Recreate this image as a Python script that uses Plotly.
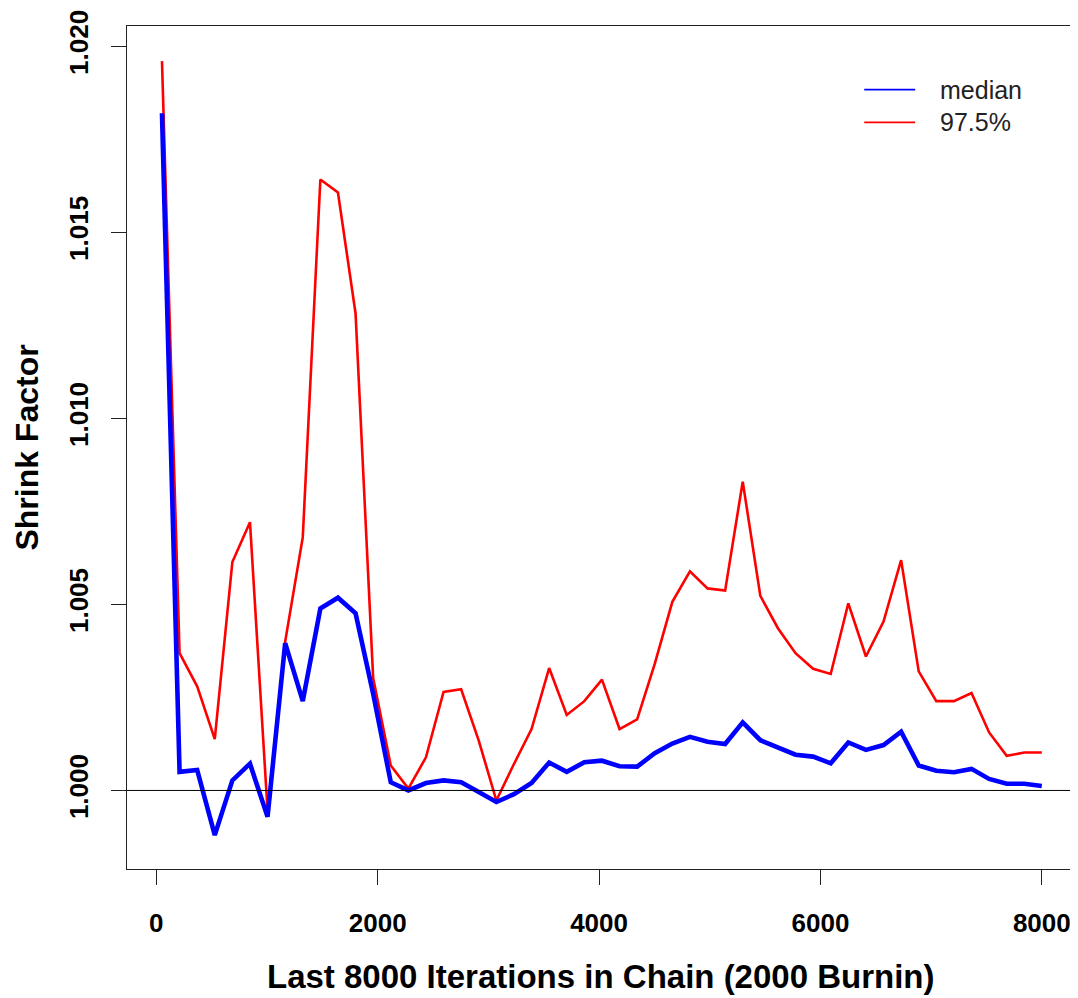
import plotly.graph_objects as go

# ---- data ----
iterations = [51, 210, 369, 528, 687, 846, 1005, 1164, 1323, 1482, 1641, 1800, 1959,
              2118, 2277, 2436, 2595, 2754, 2913, 3072, 3231, 3390, 3549, 3708, 3867,
              4026, 4185, 4344, 4503, 4662, 4821, 4980, 5139, 5298, 5457, 5616, 5775,
              5934, 6093, 6252, 6411, 6570, 6729, 6888, 7047, 7206, 7365, 7524, 7683,
              7842, 8000]

median = [1.0182, 1.0005, 1.00055, 0.9988, 1.00027, 1.00072, 0.99929, 1.00396, 1.0024,
          1.00489, 1.00518, 1.00476, 1.0026, 1.00022, 1.0000, 1.0002, 1.00027, 1.00022,
          0.99996, 0.99969, 0.9999, 1.0002, 1.00075, 1.0005, 1.00076, 1.0008, 1.00065,
          1.00064, 1.001, 1.00126, 1.00144, 1.00131, 1.00125, 1.00183, 1.00135, 1.00116,
          1.00096, 1.00091, 1.00073, 1.00129, 1.00109, 1.00122, 1.00158, 1.00067, 1.00053,
          1.00049, 1.00058, 1.00031, 1.00018, 1.00018, 1.00012]

upper975 = [1.0196, 1.00369, 1.0028, 1.00138, 1.00614, 1.00721, 0.99945, 1.004, 1.0068,
            1.01642, 1.01607, 1.01282, 1.00302, 1.00067, 1.00005, 1.00089, 1.00265, 1.00272,
            1.00134, 0.99973, 1.00071, 1.00165, 1.00329, 1.00203, 1.0024, 1.00298, 1.00165,
            1.00191, 1.0034, 1.00507, 1.00589, 1.00543, 1.00537, 1.0083, 1.00523, 1.00436,
            1.00369, 1.00327, 1.00313, 1.00503, 1.0036, 1.00454, 1.00619, 1.0032, 1.0024,
            1.0024, 1.00262, 1.00156, 1.00093, 1.00102, 1.00102]

series_names = ["median", "97.5%"]
x_ticks = [0, 2000, 4000, 6000, 8000]
y_ticks = [1.000, 1.005, 1.010, 1.015, 1.020]
x_title = "Last 8000 Iterations in Chain (2000 Burnin)"
y_title = "Shrink Factor"
reference_level = 1.0

# ---- layout geometry (page has an 8px body margin) ----
OFF = 8
W, H = 1078 - OFF, 998 - OFF
L, R, T, B = 127 - OFF, 1076 - OFF, 21 - OFF, 869 - OFF
FONT = "Liberation Sans, Arial, sans-serif"

def px_x(p):
    return (p - OFF - L) / (R - L)

def px_y(p):
    return (B - (p - OFF)) / (B - T)

fig = go.Figure()
fig.add_trace(go.Scatter(x=iterations, y=upper975, mode="lines", name=series_names[1],
                         line=dict(color="#FF0000", width=2.6), showlegend=False))
fig.add_trace(go.Scatter(x=iterations, y=median, mode="lines", name=series_names[0],
                         line=dict(color="#0000FF", width=4.6), showlegend=False))

axis_common = dict(showgrid=False, zeroline=False, showline=True, mirror=True,
                   linecolor="#222", linewidth=1.2, ticks="outside", ticklen=15,
                   tickcolor="#222", tickwidth=1.2, ticklabeloverflow="allow",
                   tickfont=dict(family=FONT, size=26, color="black", weight="bold"))

fig.update_xaxes(range=[-265, 8300], tickvals=x_ticks, ticktext=[str(v) for v in x_ticks],
                 ticklabelstandoff=16, **axis_common)
fig.update_yaxes(range=[0.997889, 1.020545], tickvals=y_ticks,
                 ticktext=["%.3f" % v for v in y_ticks], tickangle=-90,
                 ticklabelstandoff=13, **axis_common)

annotations = [
    dict(text=x_title, xref="paper", yref="paper", x=0.5, y=px_y(977), yanchor="middle",
         showarrow=False, borderpad=0,
         font=dict(family=FONT, size=33, color="black", weight="bold")),
    dict(text=y_title, xref="paper", yref="paper", x=px_x(26), y=0.5, xanchor="center",
         yanchor="middle", textangle=-90, showarrow=False, borderpad=0,
         font=dict(family=FONT, size=32, color="black", weight="bold")),
]

shapes = [dict(type="line", xref="paper", yref="y", x0=0, x1=1,
               y0=reference_level, y1=reference_level,
               line=dict(color="black", width=1))]

# manual legend (R style, no box)
legend_rows = [(series_names[0], "#0000FF", 85), (series_names[1], "#FF0000", 118)]
for name, col, yp in legend_rows:
    shapes.append(dict(type="line", xref="paper", yref="paper",
                       x0=px_x(865), x1=px_x(916), y0=px_y(yp), y1=px_y(yp),
                       line=dict(color=col, width=1.8)))
    annotations.append(dict(text=name, xref="paper", yref="paper", x=px_x(939),
                            y=px_y(yp), xanchor="left", yanchor="middle", showarrow=False,
                            font=dict(family=FONT, size=25, color="#222")))

fig.update_layout(width=W, height=H, margin=dict(l=L, r=W - R, t=T, b=H - B),
                  plot_bgcolor="white", paper_bgcolor="white",
                  annotations=annotations, shapes=shapes, showlegend=False)

fig.write_html("out.html")
